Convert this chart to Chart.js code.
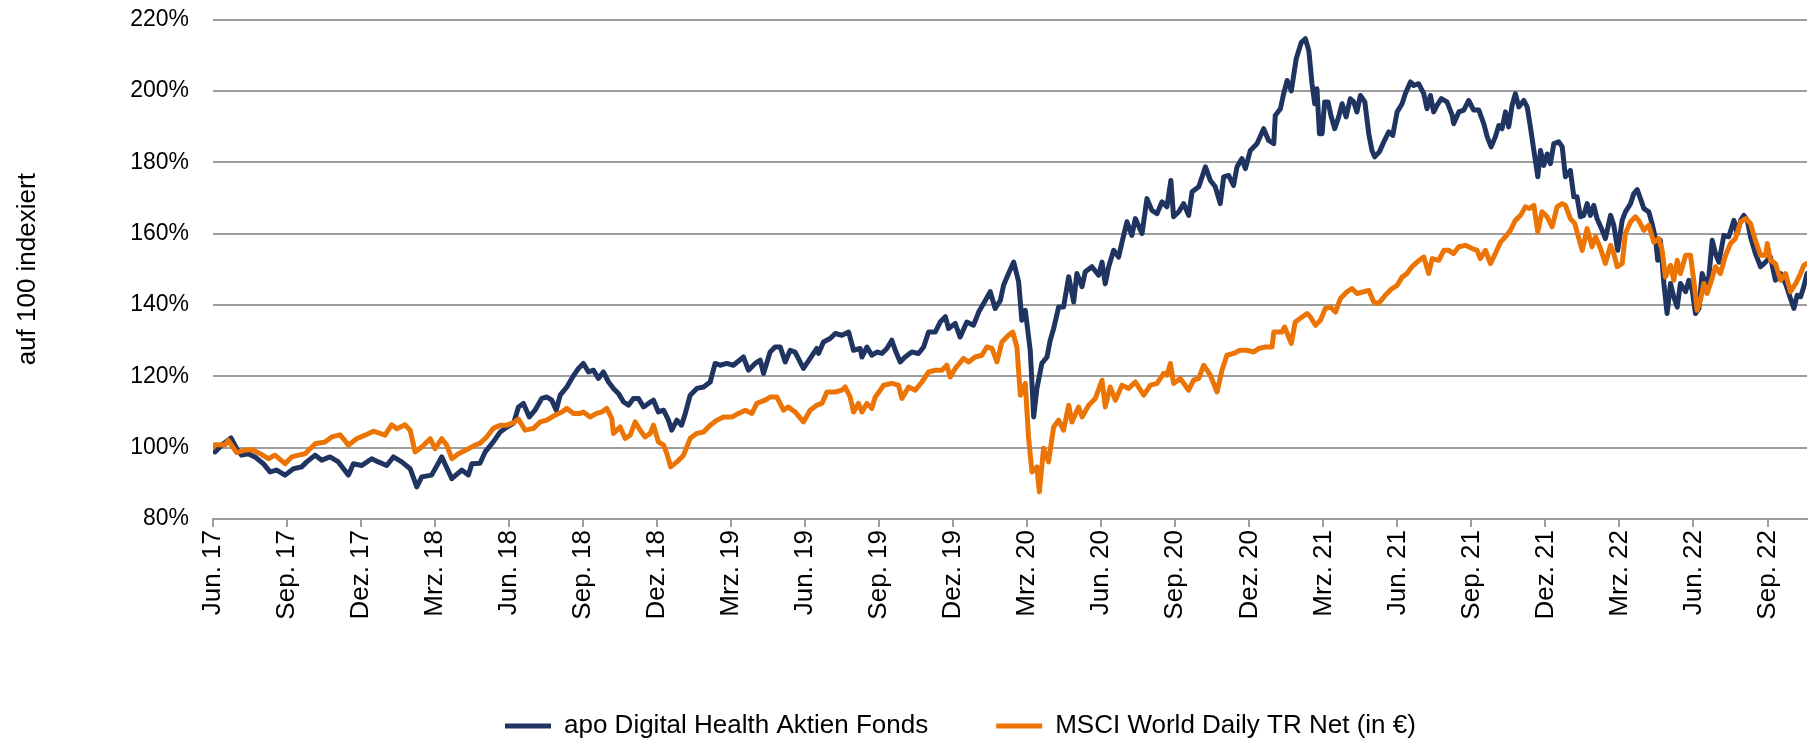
<!DOCTYPE html>
<html lang="de">
<head>
<meta charset="utf-8">
<title>apo Digital Health Aktien Fonds vs. MSCI World</title>
<script src="https://cdn.jsdelivr.net/npm/chart.js@4.4.1/dist/chart.umd.min.js"></script>
<style>
  html, body { margin: 0; padding: 0; background: #fff; }
  #chart { display: block; }
</style>
</head>
<body>
<canvas id="chart" width="1813" height="741"></canvas>
<script>
// --- Data (x = months since June 2017, y = indexed value in %) ---
const tickLabels = [
    'Jun. 17', 'Sep. 17', 'Dez. 17',
    'Mrz. 18', 'Jun. 18', 'Sep. 18', 'Dez. 18',
    'Mrz. 19', 'Jun. 19', 'Sep. 19', 'Dez. 19',
    'Mrz. 20', 'Jun. 20', 'Sep. 20', 'Dez. 20',
    'Mrz. 21', 'Jun. 21', 'Sep. 21', 'Dez. 21',
    'Mrz. 22', 'Jun. 22', 'Sep. 22'
];
const tickMonths = tickLabels.map((_, i) => i * 3);

const apoPoints = [
    [0, 100], [0.08, 98.8], [0.35, 100.7], [0.73, 102.7], [0.96, 99.7], [1.16, 97.9], [1.43, 98.3], [1.70, 97.4],
    [2.04, 95.5], [2.31, 93.2], [2.58, 93.7], [2.92, 92.3], [3.26, 94.1], [3.59, 94.6], [3.80, 96], [4.14, 97.9],
    [4.41, 96.5], [4.74, 97.4], [5.08, 96], [5.49, 92.3], [5.69, 95.5], [6.03, 95], [6.43, 96.9], [6.70, 96],
    [7.04, 95], [7.31, 97.4], [7.65, 96], [7.99, 94.1], [8.26, 89], [8.46, 91.8], [8.86, 92.3], [9.27, 97.4],
    [9.68, 91.3], [10.08, 93.7], [10.35, 92.3], [10.49, 95.5],
    [10.82, 95.6], [11.03, 98.8], [11.36, 101.6], [11.64, 104.4], [11.91, 105.8], [12.18, 106.8], [12.38, 111.4],
    [12.58, 112.4], [12.82, 108.6], [13.05, 110.5], [13.32, 113.8], [13.53, 114.2], [13.73, 113.3], [13.91, 110.5],
    [14.07, 114.7], [14.34, 117], [14.54, 119.4], [14.81, 122.2], [15.01, 123.6], [15.22, 121.2], [15.42, 121.7],
    [15.62, 119.4], [15.82, 121.2], [16.03, 118.4], [16.23, 116.6], [16.43, 115.2], [16.64, 112.8], [16.84, 111.9],
    [17.04, 113.8], [17.24, 113.8], [17.45, 111.4], [17.65, 112.4], [17.85, 113.3], [18.05, 110], [18.26, 110.5],
    [18.46, 107.7], [18.59, 104.9], [18.80, 107.7], [18.99, 106.3], [19.14, 109.6], [19.34, 114.7], [19.61, 116.6],
    [19.88, 117], [20.15, 118.4], [20.35, 123.6], [20.55, 123.1], [20.82, 123.6], [21.09, 123.1], [21.50, 125.4],
    [21.70, 121.7], [21.97, 123.6], [22.18, 124.5], [22.31, 120.8],
    [22.58, 126.8], [22.78, 128.2], [22.99, 128.2], [23.19, 124], [23.39, 127.3], [23.59, 126.8], [23.93, 122.2],
    [24.20, 125], [24.47, 127.8], [24.54, 126.4], [24.74, 129.6], [25.01, 130.6], [25.22, 132], [25.49, 131.5],
    [25.76, 132.4], [25.96, 127.3], [26.23, 127.8], [26.30, 125.4], [26.50, 128.2], [26.70, 125.9], [26.91, 126.8],
    [27.11, 126.4], [27.31, 127.8], [27.51, 130.1], [27.65, 127.3], [27.85, 124], [28.05, 125.4], [28.32, 126.8],
    [28.59, 126.4], [28.80, 128.2], [29.00, 132.4], [29.27, 132.4], [29.47, 135.2], [29.68, 136.7], [29.81, 133.4],
    [30.08, 134.8], [30.28, 131], [30.55, 135.2], [30.82, 134.3], [31.03, 138], [31.23, 140.4], [31.50, 143.7],
    [31.70, 139], [31.91, 141.3], [32.04, 145.5], [32.24, 148.8], [32.45, 152], [32.65, 146.5], [32.78, 135.7],
    [32.92, 138.5], [33.12, 127.3], [33.26, 108.6], [33.39, 116.6],
    [33.59, 123.6], [33.80, 125.4], [33.93, 130.1], [34.07, 133.4], [34.27, 139.4], [34.47, 139.4], [34.68, 147.9],
    [34.88, 140.8], [35.01, 148.8], [35.22, 145.1], [35.35, 149.3], [35.62, 150.7], [35.89, 148.3], [36.03, 152],
    [36.16, 145.9], [36.30, 150.7], [36.50, 155.3], [36.70, 153.4], [36.84, 157.6], [37.04, 163.3], [37.24, 159.5],
    [37.38, 164.2], [37.65, 160], [37.85, 169.8], [38.05, 166.5], [38.26, 165.6], [38.46, 168.9], [38.66, 167.5],
    [38.82, 174.9], [38.93, 164.7], [39.14, 166.1], [39.34, 168.4], [39.54, 165.1], [39.68, 171.7], [39.95, 173.1],
    [40.22, 178.7], [40.42, 174.9], [40.62, 173.1], [40.82, 168.4], [40.96, 175.9], [41.16, 176.3], [41.36, 173.5],
    [41.50, 178.7], [41.70, 181], [41.84, 178.2], [42.04, 183.3], [42.31, 185.2], [42.58, 189.4], [42.78, 186.1],
    [42.99, 185.2], [43.05, 193.1], [43.26, 195], [43.39, 199.2], [43.53, 202.9], [43.70, 200], [43.90, 209],
    [44.10, 213.5], [44.27, 214.6],
    [44.41, 211.3], [44.54, 202], [44.65, 196.4], [44.74, 200.6], [44.84, 188], [44.95, 188], [45.05, 196.9],
    [45.19, 196.9], [45.32, 192.7], [45.46, 189.4], [45.62, 192.7], [45.76, 196.4], [45.92, 192.7], [46.09, 197.8],
    [46.23, 196.9], [46.36, 194.1], [46.50, 198.7], [46.68, 196.9], [46.84, 188], [46.97, 183.3], [47.08, 181.5],
    [47.27, 182.9], [47.45, 185.7], [47.65, 188.5], [47.81, 187.5], [47.99, 194.1], [48.19, 196.4], [48.32, 199.2],
    [48.53, 202.5], [48.66, 201.5], [48.86, 202], [49.07, 199.2], [49.20, 195], [49.34, 198.7], [49.47, 194.1],
    [49.61, 196], [49.78, 197.8], [50.01, 196.9], [50.22, 193.2], [50.28, 190.8], [50.49, 194.1], [50.69, 194.6],
    [50.89, 197.3], [51.09, 194.6], [51.30, 194.6], [51.50, 190.8], [51.64, 187.1], [51.80, 184.3], [51.97, 187.1],
    [52.11, 190.3], [52.24, 189.4], [52.38, 194.1], [52.51, 189.9], [52.65, 196], [52.78, 199.2], [52.92, 195.5],
    [53.12, 197.3], [53.26, 195.5], [53.39, 189.9], [53.53, 183.3], [53.69, 175.9], [53.80, 183.3], [53.93, 179.1],
    [54.07, 182.3], [54.20, 179.6], [54.34, 185.2], [54.54, 185.7], [54.68, 184.3], [54.81, 175.9], [55.01, 177.7],
    [55.15, 170.3], [55.28, 170.3], [55.42, 164.7],
    [55.55, 165.1], [55.69, 168.4], [55.82, 165.1], [55.96, 167.9], [56.09, 164.2], [56.30, 160.9], [56.43, 158.6],
    [56.64, 165.1], [56.77, 162.3], [56.93, 155.3], [57.11, 163.7], [57.24, 166.1], [57.45, 168.4], [57.58, 171.2],
    [57.72, 172.3], [57.85, 169.8], [57.99, 167], [58.19, 166.1], [58.32, 162.8], [58.46, 158.6], [58.55, 152.5],
    [58.66, 158.1], [58.80, 146], [58.93, 137.6], [59.07, 146], [59.20, 142.3], [59.34, 139.4], [59.47, 146],
    [59.68, 143.7], [59.81, 146.9], [59.95, 144.1], [60.08, 137.6], [60.22, 139], [60.35, 148.8], [60.49, 146],
    [60.62, 147.8], [60.76, 158.1], [60.89, 154.4], [61.03, 152], [61.23, 159.5], [61.43, 159.1], [61.64, 163.7],
    [61.77, 159.9], [61.91, 163.7], [62.04, 165.1], [62.18, 163.7], [62.31, 159.1], [62.51, 154.4], [62.72, 150.7],
    [62.92, 152], [63.12, 153.4], [63.32, 146.9], [63.53, 148.8], [63.73, 146], [63.93, 141.8], [64.07, 139],
    [64.20, 142.7], [64.34, 142.3], [64.47, 145.1], [64.60, 148.8]
];

const msciPoints = [
    [0, 100], [0.08, 100.8], [0.49, 100.8], [0.62, 102], [0.96, 98.6], [1.30, 99.3], [1.57, 99.5], [1.91, 98.3],
    [2.24, 96.9], [2.51, 97.9], [2.92, 95.5], [3.19, 97.4], [3.46, 97.9], [3.73, 98.3], [4.14, 101.1], [4.54, 101.6],
    [4.81, 103], [5.15, 103.6], [5.49, 100.7], [5.82, 102.5], [6.16, 103.5], [6.50, 104.6], [6.97, 103.5],
    [7.24, 106.4], [7.45, 105.3], [7.78, 106.4], [7.99, 104.9], [8.19, 98.8], [8.46, 100.2], [8.80, 102.5],
    [9.00, 99.7], [9.27, 102.5], [9.47, 100.7], [9.68, 96.9], [9.95, 98.3], [10.35, 99.7], [10.62, 100.7],
    [10.82, 101.2], [11.09, 103], [11.36, 105.4], [11.64, 106.3], [11.91, 106.3], [12.18, 107], [12.38, 108],
    [12.65, 104.9], [12.99, 105.4], [13.26, 107.2], [13.53, 107.7], [13.86, 109.1], [14.14, 110], [14.34, 111],
    [14.61, 109.6], [14.88, 109.6], [15.01, 110], [15.28, 108.6], [15.55, 109.6], [15.76, 110], [15.96, 111],
    [16.16, 108.2], [16.23, 104], [16.50, 105.8], [16.70, 102.6], [16.91, 103.5], [17.11, 107.2], [17.31, 104.9],
    [17.51, 103], [17.72, 104], [17.85, 106.3], [18.05, 101.6], [18.26, 100.7], [18.39, 98.4], [18.55, 94.6],
    [18.80, 96], [19.07, 97.9], [19.34, 102.6], [19.61, 104], [19.88, 104.4], [20.15, 106.3], [20.42, 107.7],
    [20.69, 108.6], [21.03, 108.6], [21.30, 109.6], [21.57, 110.5], [21.84, 109.6], [22.04, 112.4], [22.38, 113.3],
    [22.58, 114.2], [22.85, 114.2], [23.12, 110.5], [23.32, 111.4], [23.59, 110], [23.93, 107.2], [24.20, 110.5],
    [24.47, 111.9], [24.68, 112.4], [24.88, 115.6], [25.22, 115.6], [25.49, 116.1], [25.62, 117], [25.82, 114.2],
    [25.96, 110], [26.16, 112.4], [26.30, 110], [26.50, 112.4], [26.70, 111], [26.84, 114.2], [27.04, 116.1],
    [27.18, 117.5], [27.51, 118], [27.78, 117.5], [27.92, 113.8], [28.19, 117], [28.46, 116.1], [28.73, 118.4],
    [29.00, 121.2], [29.27, 121.7], [29.54, 121.7], [29.74, 123.1], [29.88, 119.8], [30.08, 122.2], [30.42, 125],
    [30.62, 124], [30.89, 125.4], [31.16, 125.9], [31.36, 128.2], [31.57, 127.8], [31.77, 124], [31.97, 129.6],
    [32.24, 131.5], [32.41, 132.4], [32.58, 128.2], [32.72, 114.7], [32.92, 118], [33.05, 103], [33.19, 93.2],
    [33.39, 94.6], [33.49, 87.6], [33.66, 99.8], [33.86, 96], [34.07, 105.8], [34.27, 107.7], [34.47, 104.9],
    [34.68, 111.9], [34.81, 107.2], [35.08, 111.4], [35.22, 108.6], [35.49, 111.9], [35.76, 113.8], [36.03, 118.9],
    [36.16, 111.4], [36.36, 117], [36.57, 113.3], [36.84, 117.5], [37.11, 116.6], [37.38, 118.4], [37.72, 114.7],
    [37.99, 117.5], [38.26, 118], [38.53, 120.8], [38.66, 120.3], [38.80, 123.6], [38.93, 118], [39.20, 119.4],
    [39.54, 116.1], [39.74, 118.9], [39.95, 119.4], [40.15, 123.1], [40.42, 120.3], [40.69, 115.6], [40.89, 121.7],
    [41.09, 125.9], [41.36, 126.4], [41.62, 127.3], [41.89, 127.3], [42.18, 126.8], [42.38, 127.8], [42.65, 128.2],
    [42.92, 128.2], [42.99, 132.4], [43.32, 132.4], [43.43, 133.8], [43.70, 129.2], [43.86, 135.2], [44.14, 136.6],
    [44.34, 137.6], [44.47, 136.7], [44.68, 134.3], [44.88, 135.7], [45.08, 139], [45.28, 139.4], [45.49, 138],
    [45.69, 141.8], [45.96, 143.7], [46.16, 144.6], [46.36, 143.2], [46.64, 143.7], [46.84, 144.1], [47.04, 140.8],
    [47.24, 140.4], [47.51, 142.7], [47.78, 144.6], [47.99, 145.5], [48.19, 147.8], [48.39, 148.8], [48.59, 150.7],
    [48.80, 152], [49.07, 153.4], [49.27, 148.8], [49.41, 153], [49.68, 152.5], [49.88, 155.3], [50.08, 155.3],
    [50.28, 154.4], [50.49, 156.3], [50.76, 156.7], [51.03, 155.8], [51.23, 155.3], [51.36, 153], [51.57, 155.3],
    [51.77, 151.6], [51.97, 154.4], [52.18, 157.6], [52.38, 159.1], [52.58, 160.9], [52.78, 163.7], [52.99, 165.1],
    [53.19, 167.5], [53.35, 167], [53.53, 167.9], [53.69, 160.5], [53.86, 166.1], [54.07, 164.7], [54.27, 161.9],
    [54.47, 167.5], [54.68, 168.4], [54.81, 167.9], [55.01, 164.2], [55.19, 162.8], [55.28, 160.5], [55.49, 155.3],
    [55.69, 161.4], [55.89, 156.3], [56.03, 159.1], [56.23, 155.8], [56.43, 151.6], [56.64, 156.7], [56.77, 154.4],
    [56.91, 150.7], [57.11, 151.6], [57.24, 160], [57.45, 163.3], [57.65, 164.7], [57.78, 163.7], [57.99, 160.9],
    [58.19, 162.3], [58.39, 157.6], [58.59, 158.6], [58.73, 155.3], [58.86, 147.8], [59.07, 151.1], [59.20, 146.9],
    [59.34, 152.5], [59.47, 148.8], [59.68, 153.9], [59.88, 153.9], [60.01, 146.9], [60.15, 138.5], [60.28, 141.3],
    [60.42, 146], [60.55, 143.2], [60.69, 146], [60.89, 150.7], [61.09, 148.8], [61.30, 153.9], [61.50, 157.2],
    [61.70, 158.6], [61.91, 163.3], [62.11, 164.2], [62.31, 162.8], [62.51, 158.1], [62.72, 153.9], [62.92, 153.9],
    [62.99, 157.2], [63.12, 152.5], [63.32, 151.6], [63.53, 146.9], [63.73, 148.8], [63.93, 143.7], [64.14, 146],
    [64.34, 148.8], [64.47, 151.1], [64.60, 151.6]
];

// --- Styling ---
const FONT = 'Arial, "Liberation Sans", sans-serif';
const NAVY = '#1F3461';
const ORANGE = '#EC7405';
const GRID = '#9E9E9E';
const LEGEND_SIZE = 26;

// Plot area bottom and where the legend row sits
const PLOT_BOTTOM = 519;
const LEGEND_START_X = 505;
const LEGEND_CENTER_Y = 726;

// Moves the legend row to where the original has it
const legendNudge = {
    id: 'legendNudge',
    afterLayout(chart) {
        const lg = chart.legend;
        if (!lg || !lg.lineWidths) return;
        const pad = lg.options.labels.padding;
        const rowStart = (lg.left + pad + lg.right - lg.lineWidths[0]) / 2;
        const dx = LEGEND_START_X - rowStart;
        const dy = LEGEND_CENTER_Y - (lg.top + pad + LEGEND_SIZE / 2);
        lg.left += dx; lg.right += dx;
        lg.top += dy; lg.bottom += dy;
    }
};

function toXY(points) {
    return points.map(([x, y]) => ({ x, y }));
}

const ctx = document.getElementById('chart').getContext('2d');

new Chart(ctx, {
    type: 'line',
    data: {
        datasets: [
            {
                label: 'apo Digital Health Aktien Fonds',
                data: toXY(apoPoints),
                borderColor: NAVY,
                backgroundColor: NAVY,
                borderWidth: 5,
                pointRadius: 0,
                tension: 0,
                borderJoinStyle: 'round',
                borderCapStyle: 'round',
                order: 2
            },
            {
                label: 'MSCI World Daily TR Net (in €)',
                data: toXY(msciPoints),
                borderColor: ORANGE,
                backgroundColor: ORANGE,
                borderWidth: 5,
                pointRadius: 0,
                tension: 0,
                borderJoinStyle: 'round',
                borderCapStyle: 'round',
                order: 1 // drawn on top, like the original
            }
        ]
    },
    options: {
        responsive: false,
        animation: false,
        devicePixelRatio: 1,
        layout: { padding: { top: 19.5, right: 6, left: 0, bottom: 0 } },
        plugins: {
            legend: {
                position: 'bottom',
                labels: {
                    usePointStyle: true,
                    pointStyle: 'line',
                    pointStyleWidth: 46,
                    padding: 68,
                    color: '#000',
                    font: { family: FONT, size: LEGEND_SIZE },
                    sort: (a, b) => a.datasetIndex - b.datasetIndex
                }
            },
            tooltip: { enabled: false }
        },
        scales: {
            x: {
                type: 'linear',
                min: 0,
                max: 64.6,
                afterBuildTicks: (scale) => {
                    scale.ticks = tickMonths.map(v => ({ value: v }));
                },
                afterFit: (scale) => {
                    const legendH = scale.chart.legend ? scale.chart.legend.height : 0;
                    scale.height = scale.chart.height - PLOT_BOTTOM - legendH;
                },
                ticks: {
                    autoSkip: false,
                    minRotation: 90,
                    maxRotation: 90,
                    padding: 3,
                    color: '#000',
                    font: { family: FONT, size: 26 },
                    callback: (value, index) => tickLabels[index]
                },
                grid: {
                    drawOnChartArea: false,
                    drawTicks: true,
                    tickLength: 8,
                    color: GRID,
                    lineWidth: 2
                },
                border: { display: true, color: GRID, width: 2 }
            },
            y: {
                min: 80,
                max: 220,
                afterFit: (scale) => { scale.width = 213; },
                ticks: {
                    stepSize: 20,
                    padding: 4,
                    color: '#000',
                    font: { family: FONT, size: 23 },
                    callback: (value) => value + '%'
                },
                // invisible tick marks keep the labels clear of the plot
                grid: { color: GRID, lineWidth: 2, drawTicks: true, tickLength: 20, tickColor: 'rgba(0,0,0,0)' },
                border: { display: false },
                title: {
                    display: true,
                    text: 'auf 100 indexiert',
                    color: '#000',
                    font: { family: FONT, size: 26 },
                    padding: { top: 12, bottom: 0 }
                }
            }
        }
    },
    plugins: [legendNudge]
});
</script>
</body>
</html>
